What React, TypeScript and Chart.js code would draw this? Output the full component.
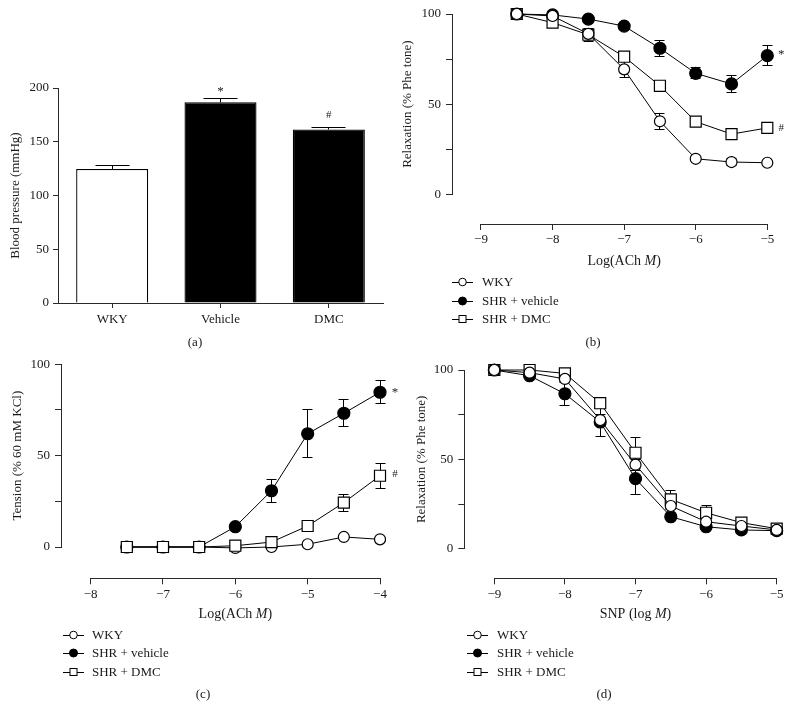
import React, { useEffect, useRef } from 'react';
import { Chart, registerables } from 'chart.js';

Chart.register(...registerables);

const FONT = '"Liberation Serif", "Times New Roman", serif';
const INK = '#1a1a1a';
const AXIS = '#2a2a2a';
const W = 793;
const H = 721;

// ---------- Panel (a): blood pressure ----------
const groupsA = ['WKY', 'Vehicle', 'DMC'];
const bpMean = [124.6, 186.7, 161.5];
const bpSem = [3.4, 3.1, 2.2];
const bpTicks = [0, 50, 100, 150, 200];

// ---------- Panel (b): ACh relaxation ----------
const logAchB = [-8.5, -8, -7.5, -7, -6.5, -6, -5.5, -5];
const wkyB = [100, 98.9, 89, 69.3, 40.5, 19.7, 17.9, 17.5];
const wkyErrB = [0.5, 1, 2, 4.4, 4.4, 1, 2, 1];
const vehB = [100, 99.5, 97.2, 93.3, 81, 67.1, 61.2, 76.9];
const vehErrB = [0.5, 0.5, 1, 1, 4.3, 3, 4.8, 5.7];
const dmcB = [100, 95.2, 88.5, 76.3, 60.2, 40.3, 33.4, 36.8];
const dmcErrB = [0.5, 1, 3.5, 2, 1.5, 1.5, 1.5, 1.5];
const xTicksB = [-9, -8, -7, -6, -5];

// ---------- Panel (c): ACh contraction ----------
const logAchC = [-7.5, -7, -6.5, -6, -5.5, -5, -4.5, -4];
const wkyC = [0, 0, 0, -0.5, 0, 1.5, 5.5, 4.2];
const wkyErrC = [0.3, 0.3, 0.3, 0.5, 0.5, 0.8, 1, 1];
const vehC = [0, 0, 0, 11.1, 30.8, 62, 73.2, 84.7];
const vehErrC = [0.3, 0.3, 0.3, 1, 6.4, 13, 7.4, 6.3];
const dmcC = [0, 0, 0, 0.7, 2.7, 11.5, 24.3, 39];
const dmcErrC = [0.3, 0.3, 0.3, 0.5, 1, 1.5, 4.7, 6.8];
const xTicksC = [-8, -7, -6, -5, -4];

// ---------- Panel (d): SNP relaxation ----------
const logSnpD = [-9, -8.5, -8, -7.5, -7, -6.5, -6, -5.5, -5];
const wkyD = [100, 98.5, 95, 72, 47, 23.9, 15.1, 12.7, 10.5];
const wkyErrD = [0.5, 1, 2, 3, 3, 2, 1.5, 1, 1];
const vehD = [100, 96.8, 86.7, 70.9, 39.2, 17.9, 12.3, 10.5, 10.1];
const vehErrD = [0.5, 1, 6.7, 8, 8.6, 1, 1, 1, 1];
const dmcD = [100, 100, 98.1, 81.4, 53.7, 27.6, 20.1, 14.6, 11.2];
const dmcErrD = [0.5, 0.5, 1, 2.5, 8.6, 4.9, 4.2, 2, 1];
const xTicksD = [-9, -8, -7, -6, -5];

const pctTicks = [0, 25, 50, 75, 100];
const pctLabels = [0, 50, 100];
const seriesNames = ['WKY', 'SHR + vehicle', 'SHR + DMC'];

type Part = [string, boolean];
interface Note { x: number; y: number; text: string; size: number; dx?: number }
interface AxesCfg {
  xLine?: [number, number];
  yLine: [number, number];
  xTitle?: Part[];
  yTitle: Part[];
  xTitleGap: number;
  yTitleGap: number;
  notes: Note[];
}

const fmt = (v: number) => (v < 0 ? '\u2212' + Math.abs(v) : String(v));

function drawParts(ctx: CanvasRenderingContext2D, parts: Part[], cx: number, cy: number, size: number) {
  let total = 0;
  const widths = parts.map(([t, it]) => {
    ctx.font = `${it ? 'italic ' : ''}${size}px ${FONT}`;
    const w = ctx.measureText(t).width;
    total += w;
    return w;
  });
  let x = cx - total / 2;
  parts.forEach(([t, it], i) => {
    ctx.font = `${it ? 'italic ' : ''}${size}px ${FONT}`;
    ctx.fillText(t, x, cy);
    x += widths[i];
  });
}

const align = (p: number) => Math.round(p - 0.5) + 0.5;

function makeAxesPlugin(cfg: AxesCfg) {
  return {
    id: 'prismAxes',
    beforeDatasetsDraw(chart: any) {
      const { ctx, chartArea: a, scales } = chart;
      const xs = scales.x;
      const ys = scales.y;
      ctx.save();
      ctx.strokeStyle = AXIS;
      ctx.lineWidth = 1;
      const ax = align(a.left);
      const ay = align(a.bottom);
      ctx.beginPath();
      ctx.moveTo(ax, align(ys.getPixelForValue(cfg.yLine[1])) - 0.5);
      ctx.lineTo(ax, align(ys.getPixelForValue(cfg.yLine[0])) + 0.5);
      const x0 = cfg.xLine ? xs.getPixelForValue(cfg.xLine[0]) : a.left;
      const x1 = cfg.xLine ? xs.getPixelForValue(cfg.xLine[1]) : a.right;
      ctx.moveTo(align(x0) - 0.5, ay);
      ctx.lineTo(align(x1) + 0.5, ay);
      ctx.stroke();
      ctx.restore();
    },
    afterDatasetsDraw(chart: any) {
      const { ctx, chartArea: a, scales } = chart;
      const xs = scales.x;
      const ys = scales.y;
      ctx.save();
      ctx.fillStyle = INK;
      ctx.textBaseline = 'middle';
      ctx.textAlign = 'left';
      // y title
      const yc = (ys.getPixelForValue(cfg.yLine[0]) + ys.getPixelForValue(cfg.yLine[1])) / 2;
      ctx.save();
      ctx.translate(a.left - cfg.yTitleGap, yc);
      ctx.rotate(-Math.PI / 2);
      drawParts(ctx, cfg.yTitle, 0, 0, 13);
      ctx.restore();
      // x title
      if (cfg.xTitle && cfg.xLine) {
        const xc = (xs.getPixelForValue(cfg.xLine[0]) + xs.getPixelForValue(cfg.xLine[1])) / 2;
        drawParts(ctx, cfg.xTitle, xc, a.bottom + cfg.xTitleGap, 14);
      }
      // significance marks
      ctx.textAlign = 'center';
      cfg.notes.forEach((n) => {
        ctx.font = `${n.size}px ${FONT}`;
        ctx.fillText(n.text, xs.getPixelForValue(n.x) + (n.dx || 0), ys.getPixelForValue(n.y));
      });
      ctx.restore();
    },
  };
}

const errorBarPlugin = {
  id: 'errorBars',
  beforeDatasetsDraw(chart: any) {
    const ctx = chart.ctx;
    chart.data.datasets.forEach((ds: any, i: number) => {
      if (!ds.errors) return;
      const meta = chart.getDatasetMeta(i);
      const ys = chart.scales[meta.yAxisID];
      ctx.save();
      ctx.strokeStyle = '#000';
      ctx.lineWidth = 1;
      meta.data.forEach((el: any, j: number) => {
        const raw = ds.data[j];
        const v = typeof raw === 'object' ? raw.y : raw;
        const e = ds.errors[j];
        const x = Math.round(el.x - 0.5) + 0.5;
        const yHi = Math.round(ys.getPixelForValue(v + e) - 0.5) + 0.5;
        const yLo = Math.round(ys.getPixelForValue(ds.errorUpOnly ? v : v - e) - 0.5) + 0.5;
        const h = ds.capWidth / 2;
        ctx.beginPath();
        ctx.moveTo(x, yLo);
        ctx.lineTo(x, yHi);
        ctx.moveTo(x - h, yHi);
        ctx.lineTo(x + h, yHi);
        if (!ds.errorUpOnly) {
          ctx.moveTo(x - h, yLo);
          ctx.lineTo(x + h, yLo);
        }
        ctx.stroke();
      });
      ctx.restore();
    });
  },
};

function pad(left: number, top: number, right: number, bottom: number, yW = 50, xH = 30) {
  return { left: left - yW, top, right: W - right, bottom: H - bottom - xH };
}

const tickFont = { family: FONT, size: 13 };

function linearAxis(min: number, max: number, ticks: number[], labels: number[] | null, size: 'w' | 'h', tl: number, padding: number) {
  return {
    type: 'linear' as const,
    min,
    max,
    afterBuildTicks: (s: any) => {
      s.ticks = ticks.map((v) => ({ value: v }));
    },
    afterFit: (s: any) => {
      if (size === 'w') s.width = 50;
      else s.height = 30;
    },
    border: { display: false },
    grid: { drawOnChartArea: false, drawTicks: true, tickLength: tl, color: AXIS, lineWidth: 1 },
    ticks: {
      font: tickFont,
      color: INK,
      padding,
      autoSkip: false,
      maxRotation: 0,
      callback: (v: any) => (labels && !labels.includes(v) ? '' : fmt(v)),
    },
  };
}

function lineConfig(
  xVals: number[],
  ys: number[][],
  errs: number[][],
  orders: number[],
  area: [number, number, number, number],
  xRange: [number, number],
  yMin: number,
  xTicks: number[],
  axes: AxesCfg,
) {
  const looks = [
    { pointStyle: 'circle', pointRadius: 5.5, pointBackgroundColor: '#fff' },
    { pointStyle: 'circle', pointRadius: 6, pointBackgroundColor: '#000' },
    { pointStyle: 'rect', pointRadius: 7.8, pointBackgroundColor: '#fff' },
  ];
  return {
    type: 'line',
    data: {
      datasets: ys.map((arr, k) => ({
        label: seriesNames[k],
        data: xVals.map((x, i) => ({ x, y: arr[i] })),
        errors: errs[k],
        capWidth: 10,
        borderColor: '#000',
        borderWidth: 1,
        pointBorderColor: '#000',
        pointBorderWidth: 1.2,
        tension: 0,
        clip: false,
        order: orders[k],
        ...looks[k],
      })),
    },
    options: {
      responsive: false,
      animation: false,
      layout: { padding: pad(...area) },
      plugins: { legend: { display: false }, tooltip: { enabled: false } },
      scales: {
        x: linearAxis(xRange[0], xRange[1], xTicks, null, 'h', 6, 2),
        y: linearAxis(yMin, 100, pctTicks, pctLabels, 'w', 6, 5),
      },
    },
    plugins: [errorBarPlugin, makeAxesPlugin(axes)],
  };
}

const configA = {
  type: 'bar',
  data: {
    labels: groupsA,
    datasets: [
      {
        data: bpMean,
        errors: bpSem,
        errorUpOnly: true,
        capWidth: 34,
        backgroundColor: ['#fff', '#000', '#000'],
        borderColor: '#000',
        borderWidth: 1.3,
        barPercentage: 0.665,
        categoryPercentage: 1,
      },
    ],
  },
  options: {
    responsive: false,
    animation: false,
    layout: { padding: pad(58, 88, 383, 303) },
    plugins: { legend: { display: false }, tooltip: { enabled: false } },
    scales: {
      x: {
        type: 'category' as const,
        offset: true,
        afterFit: (s: any) => {
          s.height = 30;
        },
        border: { display: false },
        grid: { offset: false, drawOnChartArea: false, drawTicks: true, tickLength: 5, color: AXIS },
        ticks: { font: tickFont, color: INK, padding: 4 },
      },
      y: linearAxis(0, 200, bpTicks, null, 'w', 5, 4),
    },
  },
  plugins: [
    errorBarPlugin,
    makeAxesPlugin({
      yLine: [0, 200],
      yTitle: [['Blood pressure (mmHg)', false]],
      xTitleGap: 0,
      yTitleGap: 42,
      notes: [
        { x: 1, y: 197, text: '*', size: 13 },
        { x: 2, y: 175, text: '#', size: 11 },
      ],
    }),
  ],
};

const achTitle: Part[] = [['Log(ACh ', false], ['M', true], [')', false]];
const relaxTitle: Part[] = [['Relaxation (% Phe tone)', false]];

const configB = lineConfig(
  logAchB,
  [wkyB, vehB, dmcB],
  [wkyErrB, vehErrB, dmcErrB],
  [0, 1, 2],
  [452, 14, 767.3, 224],
  [-9.405, -5],
  -16.47,
  xTicksB,
  {
    xLine: [-9, -5],
    yLine: [0, 100],
    xTitle: achTitle,
    yTitle: relaxTitle,
    xTitleGap: 37,
    yTitleGap: 44,
    notes: [
      { x: -5, y: 77.3, text: '*', size: 13, dx: 14 },
      { x: -5, y: 36.7, text: '#', size: 11, dx: 14 },
    ],
  },
);

const configC = lineConfig(
  logAchC,
  [wkyC, vehC, dmcC],
  [wkyErrC, vehErrC, dmcErrC],
  [2, 1, 0],
  [61, 364.3, 380, 578.3],
  [-8.41, -4],
  -17.13,
  xTicksC,
  {
    xLine: [-8, -4],
    yLine: [0, 100],
    xTitle: achTitle,
    yTitle: [['Tension (% 60 mM KCl)', false]],
    xTitleGap: 36,
    yTitleGap: 43.5,
    notes: [
      { x: -4, y: 84.3, text: '*', size: 13, dx: 15 },
      { x: -4, y: 40, text: '#', size: 11, dx: 15 },
    ],
  },
);

const configD = lineConfig(
  logSnpD,
  [wkyD, vehD, dmcD],
  [wkyErrD, vehErrD, dmcErrD],
  [0, 1, 2],
  [464.3, 370, 776.7, 578.3],
  [-9.425, -5],
  -16.56,
  xTicksD,
  {
    xLine: [-9, -5],
    yLine: [0, 100],
    xTitle: [['SNP (log ', false], ['M', true], [')', false]],
    yTitle: relaxTitle,
    xTitleGap: 36,
    yTitleGap: 43,
    notes: [],
  },
);

function ChartCanvas({ config }: { config: any }) {
  const ref = useRef<HTMLCanvasElement>(null);
  useEffect(() => {
    const chart = new Chart(ref.current as HTMLCanvasElement, config);
    return () => chart.destroy();
  }, [config]);
  return (
    <canvas
      ref={ref}
      width={W}
      height={H}
      style={{ position: 'absolute', left: 0, top: 0, width: W, height: H }}
    />
  );
}

function Marker({ kind }: { kind: number }) {
  if (kind === 2) return <rect x={7} y={4.5} width={7} height={7} fill="#fff" stroke="#000" strokeWidth={1} />;
  return (
    <circle cx={10.5} cy={8} r={kind === 1 ? 4 : 3.8} fill={kind === 1 ? '#000' : '#fff'} stroke="#000" strokeWidth={1} />
  );
}

function Legend({ symLeft, textLeft, rows }: { symLeft: number; textLeft: number; rows: number[] }) {
  return (
    <>
      {seriesNames.map((name, k) => (
        <React.Fragment key={name}>
          <svg
            width={21}
            height={16}
            style={{ position: 'absolute', left: symLeft, top: rows[k] - 8 }}
          >
            <line x1={0} y1={8.5} x2={21} y2={8.5} stroke="#000" strokeWidth={1} />
            <Marker kind={k} />
          </svg>
          <div
            style={{
              position: 'absolute',
              left: textLeft,
              top: rows[k] - 8,
              height: 16,
              lineHeight: '16px',
              fontSize: 13,
              whiteSpace: 'nowrap',
            }}
          >
            {name}
          </div>
        </React.Fragment>
      ))}
    </>
  );
}

function PanelLabel({ text, x, y }: { text: string; x: number; y: number }) {
  return (
    <div
      style={{
        position: 'absolute',
        left: x,
        top: y,
        transform: 'translate(-50%, -50%)',
        fontSize: 13,
        lineHeight: '16px',
      }}
    >
      {text}
    </div>
  );
}

export default function App() {
  return (
    <div
      style={{
        position: 'fixed',
        left: 0,
        top: 0,
        width: W,
        height: H,
        background: '#fff',
        fontFamily: FONT,
        color: INK,
        overflow: 'hidden',
      }}
    >
      <ChartCanvas config={configA} />
      <ChartCanvas config={configB} />
      <ChartCanvas config={configC} />
      <ChartCanvas config={configD} />
      <Legend symLeft={452} textLeft={482} rows={[282, 301, 319]} />
      <Legend symLeft={63} textLeft={92} rows={[635, 653, 672]} />
      <Legend symLeft={467} textLeft={497} rows={[635, 653, 672]} />
      <PanelLabel text="(a)" x={195} y={342} />
      <PanelLabel text="(b)" x={593} y={342} />
      <PanelLabel text="(c)" x={203} y={694} />
      <PanelLabel text="(d)" x={604} y={694} />
    </div>
  );
}
